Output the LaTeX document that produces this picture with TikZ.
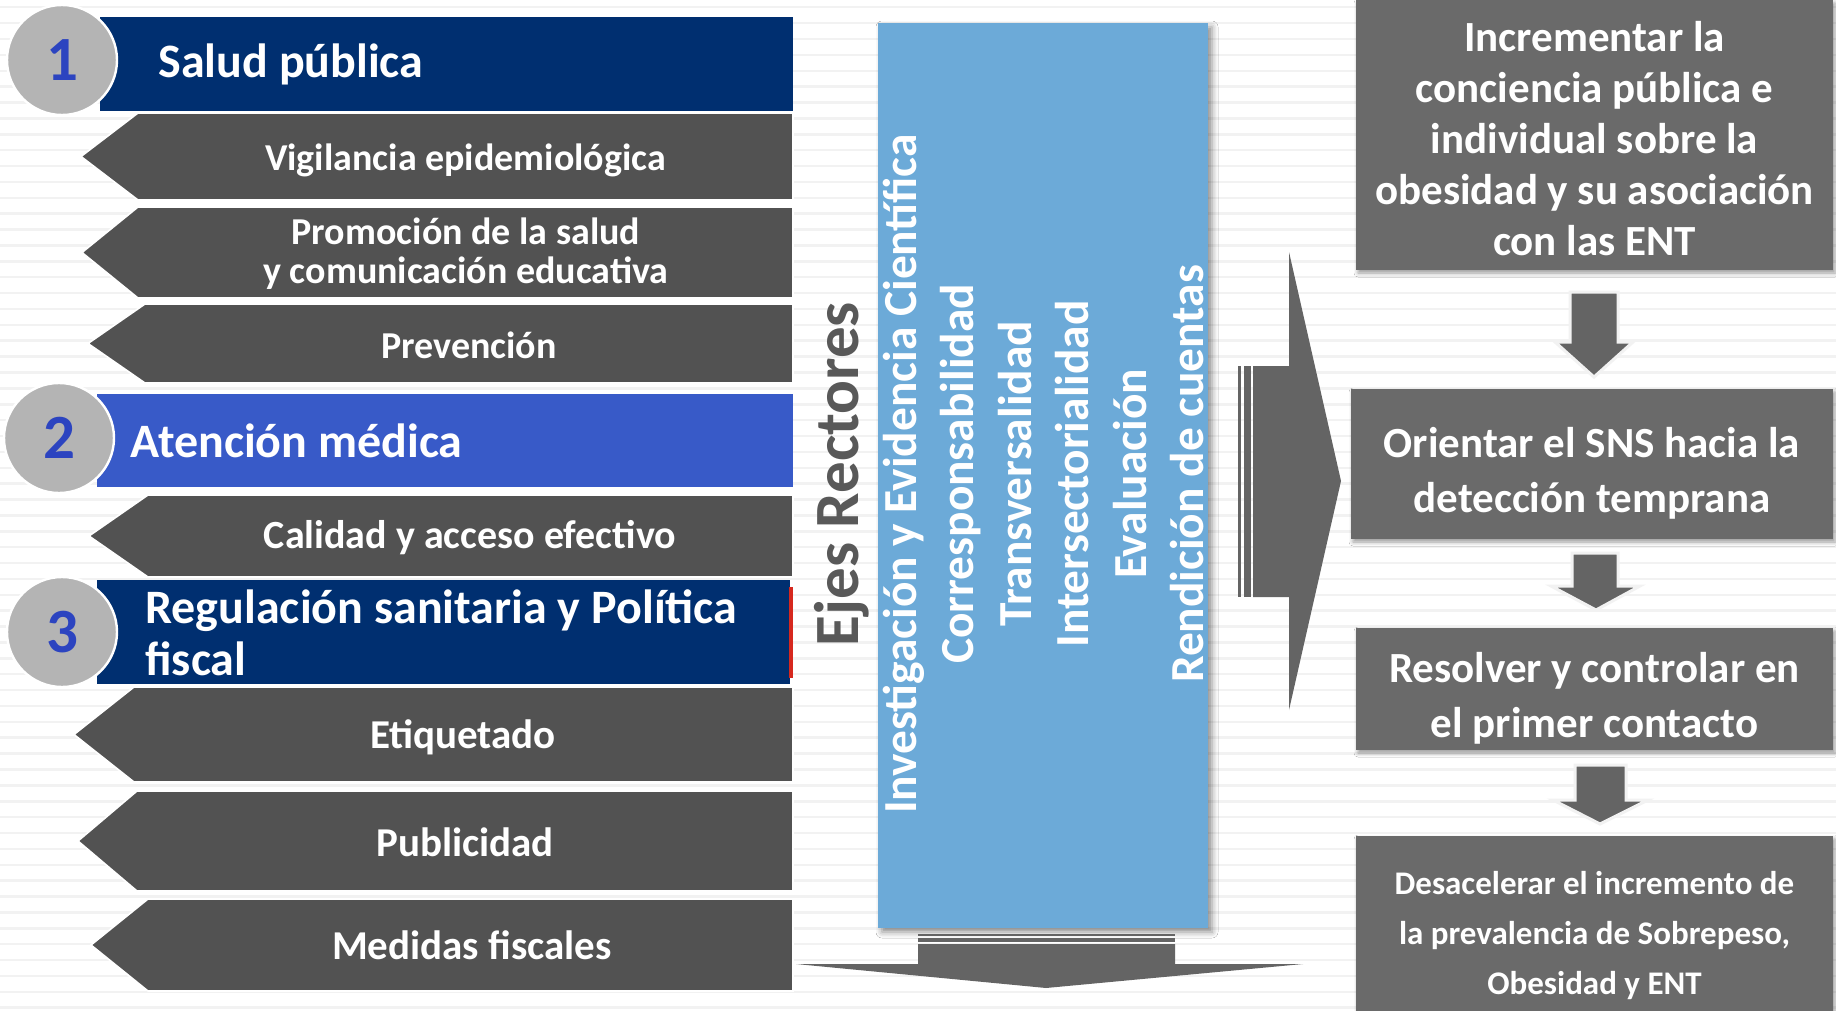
\documentclass[tikz,border=0pt]{standalone}
\usepackage{fontspec}
\setmainfont{Carlito}
\usetikzlibrary{shadows.blur}

\definecolor{navy}{RGB}{0,47,112}
\definecolor{medblue}{RGB}{56,90,200}
\definecolor{chevgray}{RGB}{82,82,82}
\definecolor{boxgray}{RGB}{106,106,106}
\definecolor{arrowgray}{RGB}{100,100,100}
\definecolor{axisblue}{RGB}{108,170,216}
\definecolor{numblue}{RGB}{44,68,192}
\definecolor{circgray}{RGB}{180,180,180}
\definecolor{stripe}{RGB}{242,242,242}
\definecolor{titlegray}{RGB}{89,89,89}
\definecolor{edgered}{RGB}{214,40,30}

\tikzstyle{chevron}=[fill=chevgray,draw=white,line width=0.8pt]
\tikzstyle{chevtext}=[text=white,inner sep=0pt,align=center,font=\bfseries\fontsize{20.5}{20.5}\selectfont]
\tikzstyle{smallchev}=[chevtext,font=\bfseries\fontsize{19}{19.5}\selectfont]
\tikzstyle{bantext}=[text=white,inner sep=0pt,align=left,font=\bfseries\fontsize{24}{26}\selectfont]
\tikzstyle{num}=[circle,fill=circgray,draw=white,line width=1.2pt,minimum size=55pt,inner sep=0pt,text=numblue,font=\bfseries\fontsize{31.5}{31.5}\selectfont]
\tikzstyle{axisbox}=[rectangle,fill=axisblue,minimum width=165pt,minimum height=452.5pt,inner sep=0pt,blur shadow={shadow xshift=2pt,shadow yshift=-2pt,shadow blur radius=3pt,shadow opacity=45}]
\tikzstyle{axistext}=[text=white,inner sep=0pt,align=center,rotate=90,font=\bfseries\fontsize{23.7}{28.7}\selectfont]
\tikzstyle{goal}=[rectangle,fill=boxgray,inner sep=0pt,minimum width=238.5pt,blur shadow={shadow xshift=1pt,shadow yshift=-1.5pt,shadow blur radius=2pt,shadow opacity=40}]
\tikzstyle{goaltext}=[text=white,align=center,inner sep=0pt,font=\bfseries\fontsize{21.5}{27.5}\selectfont]
\tikzstyle{downarrow}=[fill=arrowgray,draw=stripe,line width=1.5pt]

\begin{document}
\begin{tikzpicture}[x=0.5pt,y=-0.5pt]

  \useasboundingbox (0,0) rectangle (1836,1011);
  \fill[white] (0,0) rectangle (1836,1011);
  \foreach \k in {0,...,63} \fill[stripe] (0,{6+15.88*\k}) rectangle (1836,{8.5+15.88*\k});

  % 1 salud publica
  \fill[navy] (100,17) rectangle (793,111);
  \node[bantext,anchor=base west] (salud) at (158,78) {Salud pública};
  \fill[chevron] (81,156.5) -- (138,113) -- (793,113) -- (793,200) -- (138,200) -- cycle;
  \node[smallchev,anchor=base] (vigilancia) at (465.5,170) {Vigilancia epidemiológica};
  \fill[chevron] (82,252.5) -- (138,207) -- (793,207) -- (793,298) -- (138,298) -- cycle;
  \node[smallchev] (promocion) at (466,254) {Promoción de la salud\\y comunicación educativa};
  \fill[chevron] (88,343.5) -- (145,304) -- (793,304) -- (793,383) -- (145,383) -- cycle;
  \node[smallchev,anchor=base] (prevencion) at (469,358) {Prevención};

  % 2 atencion medica
  \fill[medblue] (97,394) rectangle (793,487);
  \node[bantext,anchor=base west] (atencion) at (130,457) {Atención médica};
  \fill[chevron] (89,536) -- (148,495) -- (793,495) -- (793,577) -- (148,577) -- cycle;
  \node[chevtext,anchor=base,font=\bfseries\fontsize{20}{20}\selectfont] (calidad) at (470,548) {Calidad y acceso efectivo};

  % 3 regulacion
  \fill[navy] (97,580) rectangle (790,684);
  \fill[edgered] (789,587) rectangle (792.5,678);
  \node[bantext,anchor=west] (regulacion) at (145,633) {Regulación sanitaria y Política\\fiscal};
  \fill[chevron] (74,734.5) -- (134,687) -- (793,687) -- (793,782) -- (134,782) -- cycle;
  \node[chevtext,anchor=base] (etiquetado) at (463,748) {Etiquetado};
  \fill[chevron] (78,841) -- (137,791) -- (793,791) -- (793,891) -- (137,891) -- cycle;
  \node[chevtext,anchor=base] (publicidad) at (465,856) {Publicidad};
  \fill[chevron] (91,945) -- (148,899) -- (793,899) -- (793,991) -- (148,991) -- cycle;
  \node[chevtext,anchor=base] (medidas) at (472,959) {Medidas fiscales};

  \node[num] (n1) at (62,60) {1};
  \node[num] (n2) at (59,438) {2};
  \node[num] (n3) at (62,632) {3};

  % ejes rectores
  \node[rotate=90,anchor=base,inner sep=0pt,text=titlegray,font=\bfseries\fontsize{31.5}{31.5}\selectfont] (ejes) at (858,474) {Ejes Rectores};
  \node[axisbox] (ejesbox) at (1043,475.5) {};
  \node[axistext] (ejestext) at (1043.5,474) {Investigación y Evidencia Científica\\Corresponsabilidad\\Transversalidad\\Intersectorialidad\\Evaluación\\Rendición de cuentas};

  \fill[arrowgray] (918,934) rectangle (1175,936);
  \fill[arrowgray] (918,938) rectangle (1175,942);
  \fill[arrowgray] (918,944) -- (1175,944) -- (1175,964) -- (1303,964) -- (1046,988) -- (796,964) -- (918,964) -- cycle;

  \fill[arrowgray] (1238,366) rectangle (1241,597);
  \fill[arrowgray] (1244,366) rectangle (1251,597);
  \fill[arrowgray] (1253,366) -- (1289,366) -- (1289,252) -- (1341,481) -- (1289,710) -- (1289,597) -- (1253,597) -- cycle;

  % objetivos
  \node[goal,minimum height=135pt] (g1) at (1594.5,135) {};
  \node[goal,minimum width=241pt,minimum height=75pt] (g2) at (1592,464) {};
  \node[goal,minimum height=61pt] (g3) at (1594.5,689) {};
  \node[goal,minimum height=94.5pt] (g4) at (1594.5,930.5) {};
  \node[goaltext,font=\bfseries\fontsize{21.5}{25.5}\selectfont] (t1) at (1594.5,139) {Incrementar la\\conciencia pública e\\individual sobre la\\obesidad y su asociación\\con las ENT};
  \node[goaltext] (t2) at (1592,473.5) {Orientar el SNS hacia la\\detección temprana};
  \node[goaltext] (t3) at (1594.5,698.5) {Resolver y controlar en\\el primer contacto};
  \node[goaltext,font=\bfseries\fontsize{16.5}{25}\selectfont] (t4) at (1594.5,935.5) {Desacelerar el incremento de\\la prevalencia de Sobrepeso,\\Obesidad y ENT};

  \draw[downarrow] (1570,292) -- (1618,292) -- (1618,342) -- (1633,342) -- (1594,377) -- (1555,342) -- (1570,342) -- cycle;
  \draw[downarrow] (1572,553) -- (1618,553) -- (1618,586) -- (1640,586) -- (1596,610) -- (1551,586) -- (1572,586) -- cycle;
  \draw[downarrow] (1575,765) -- (1626,765) -- (1626,800) -- (1648,800) -- (1600,824) -- (1553,800) -- (1575,800) -- cycle;

\end{tikzpicture}
\end{document}
